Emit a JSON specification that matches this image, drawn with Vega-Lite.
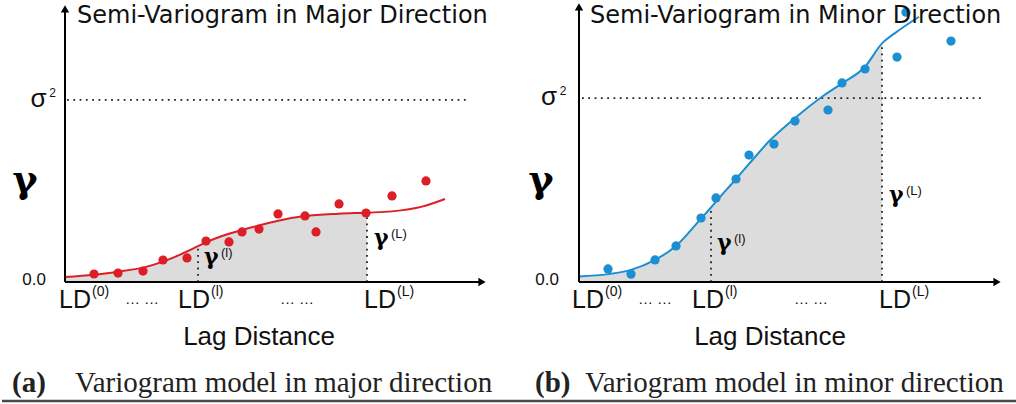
{
  "$schema": "https://vega.github.io/schema/vega-lite/v6.json",
  "padding": 0,
  "bounds": "flush",
  "spacing": 0,
  "config": {"view": {"stroke": null}, "concat": {"spacing": 0}},
  "datasets": {
    "lcurve": [
      {"x": 0, "y": 0.027}, {"x": 2.9, "y": 0.040}, {"x": 5.3, "y": 0.057}, {"x": 7.8, "y": 0.079},
      {"x": 9.8, "y": 0.112}, {"x": 11.0, "y": 0.138}, {"x": 12.2, "y": 0.168}, {"x": 13.3, "y": 0.197},
      {"x": 14.1, "y": 0.218}, {"x": 15.7, "y": 0.253}, {"x": 17.7, "y": 0.286}, {"x": 19.4, "y": 0.311}, {"x": 21.3, "y": 0.337},
      {"x": 24.0, "y": 0.362}, {"x": 27.4, "y": 0.375}, {"x": 30.2, "y": 0.381}, {"x": 32.7, "y": 0.388},
      {"x": 35.7, "y": 0.414}, {"x": 38.0, "y": 0.456}
    ],
    "lpts": [
      {"x": 2.9, "y": 0.044}, {"x": 5.3, "y": 0.049}, {"x": 7.8, "y": 0.060}, {"x": 9.8, "y": 0.121},
      {"x": 12.2, "y": 0.132}, {"x": 14.1, "y": 0.225}, {"x": 16.4, "y": 0.220}, {"x": 17.7, "y": 0.275},
      {"x": 19.4, "y": 0.291}, {"x": 21.3, "y": 0.374}, {"x": 24.0, "y": 0.363}, {"x": 25.1, "y": 0.275},
      {"x": 27.4, "y": 0.429}, {"x": 30.1, "y": 0.379}, {"x": 32.7, "y": 0.473}, {"x": 36.1, "y": 0.555}
    ],
    "llines": [
      {"kind": "axis", "x": 0, "y": 0, "x2": 0, "y2": 1.49},
      {"kind": "axis", "x": 0, "y": 0, "x2": 41.7, "y2": 0},
      {"kind": "dot", "x": 0.2, "y": 1, "x2": 40.4, "y2": 1},
      {"kind": "dot", "x": 13.3, "y": 0, "x2": 13.3, "y2": 0.195},
      {"kind": "dot", "x": 30.2, "y": 0, "x2": 30.2, "y2": 0.37},
      {"kind": "bottom", "x": -6.3, "y": -0.654, "x2": 44.5, "y2": -0.654}
    ],
    "larrows": [{"kind": "up", "x": 0, "y": 1.5}, {"kind": "right", "x": 41.7, "y": 0}],
    "ltext": [
      {"kind": "title", "x": 1.2, "y": 1.423, "text": "Semi-Variogram in Major Direction"},
      {"kind": "tick", "x": -1.9, "y": -0.016, "text": "0.0"},
      {"kind": "sigma", "x": -2.65, "y": 0.962, "text": "σ"},
      {"kind": "sup2", "x": -1.25, "y": 1.016, "text": "2"},
      {"kind": "gamma", "x": -4.0, "y": 0.495, "text": "γ"},
      {"kind": "ld", "x": -0.6, "y": -0.143, "text": "LD", "sup": "(0)"},
      {"kind": "ld", "x": 11.3, "y": -0.143, "text": "LD", "sup": "(l)"},
      {"kind": "ld", "x": 29.9, "y": -0.143, "text": "LD", "sup": "(L)"},
      {"kind": "dots", "x": 7.7, "y": -0.121, "text": "… …"},
      {"kind": "dots", "x": 23.2, "y": -0.121, "text": "… …"},
      {"kind": "glabel", "x": 13.9, "y": 0.099, "text": "γ", "sup": "(l)"},
      {"kind": "glabel", "x": 30.9, "y": 0.203, "text": "γ", "sup": "(L)"},
      {"kind": "xtitle", "x": 19.4, "y": -0.346, "text": "Lag Distance"},
      {"kind": "capbold", "x": -5.3, "y": -0.604, "text": "(a)"},
      {"kind": "cap", "x": 1.0, "y": -0.604, "text": "Variogram model in major direction"}
    ],
    "rcurve": [
      {"x": 0, "y": 0.030}, {"x": 2.9, "y": 0.043}, {"x": 5.2, "y": 0.066}, {"x": 7.6, "y": 0.120},
      {"x": 9.7, "y": 0.196}, {"x": 12.2, "y": 0.345}, {"x": 13.2, "y": 0.405}, {"x": 13.7, "y": 0.437},
      {"x": 15.7, "y": 0.560}, {"x": 17.0, "y": 0.642}, {"x": 19.0, "y": 0.765}, {"x": 21.6, "y": 0.891},
      {"x": 24.3, "y": 1.007}, {"x": 26.3, "y": 1.080}, {"x": 28.6, "y": 1.170}, {"x": 30.3, "y": 1.297},
      {"x": 31.6, "y": 1.353}, {"x": 34.0, "y": 1.442}
    ],
    "rpts": [
      {"x": 2.9, "y": 0.071}, {"x": 5.2, "y": 0.043}, {"x": 7.6, "y": 0.120}, {"x": 9.7, "y": 0.196},
      {"x": 12.2, "y": 0.348}, {"x": 13.7, "y": 0.457}, {"x": 15.7, "y": 0.560}, {"x": 17.0, "y": 0.690},
      {"x": 19.5, "y": 0.750}, {"x": 21.6, "y": 0.875}, {"x": 24.9, "y": 0.935}, {"x": 26.3, "y": 1.082},
      {"x": 28.6, "y": 1.158}, {"x": 31.8, "y": 1.223}, {"x": 32.7, "y": 1.467}, {"x": 37.2, "y": 1.310}
    ],
    "rlines": [
      {"kind": "axis", "x": 0, "y": 0, "x2": 0, "y2": 1.49},
      {"kind": "axis", "x": 0, "y": 0, "x2": 41.8, "y2": 0},
      {"kind": "dot", "x": 0.3, "y": 1, "x2": 40.5, "y2": 1},
      {"kind": "dot", "x": 13.2, "y": 0, "x2": 13.2, "y2": 0.39},
      {"kind": "dot", "x": 30.3, "y": 0, "x2": 30.3, "y2": 1.28},
      {"kind": "bottom", "x": -6.9, "y": -0.647, "x2": 43.9, "y2": -0.647}
    ],
    "rarrows": [{"kind": "up", "x": 0, "y": 1.495}, {"kind": "right", "x": 41.8, "y": 0}],
    "rtext": [
      {"kind": "title", "x": 1.1, "y": 1.408, "text": "Semi-Variogram in Minor Direction"},
      {"kind": "tick", "x": -2.0, "y": -0.016, "text": "0.0"},
      {"kind": "sigma", "x": -3.0, "y": 0.962, "text": "σ"},
      {"kind": "sup2", "x": -1.6, "y": 1.016, "text": "2"},
      {"kind": "gamma", "x": -3.8, "y": 0.489, "text": "γ"},
      {"kind": "ld", "x": -0.7, "y": -0.141, "text": "LD", "sup": "(0)"},
      {"kind": "ld", "x": 11.3, "y": -0.141, "text": "LD", "sup": "(l)"},
      {"kind": "ld", "x": 30.0, "y": -0.141, "text": "LD", "sup": "(L)"},
      {"kind": "dots", "x": 7.6, "y": -0.120, "text": "… …"},
      {"kind": "dots", "x": 23.2, "y": -0.120, "text": "… …"},
      {"kind": "glabel", "x": 13.8, "y": 0.174, "text": "γ", "sup": "(l)"},
      {"kind": "glabel", "x": 31.0, "y": 0.435, "text": "γ", "sup": "(L)"},
      {"kind": "xtitle", "x": 19.1, "y": -0.342, "text": "Lag Distance"},
      {"kind": "capbold", "x": -4.4, "y": -0.598, "text": "(b)"},
      {"kind": "cap", "x": 0.6, "y": -0.598, "text": "Variogram model in minor direction"}
    ]
  },
  "hconcat": [
    {
      "width": 508,
      "height": 404,
      "encoding": {
        "x": {"field": "x", "type": "quantitative", "scale": {"domain": [-6.3, 44.5], "nice": false, "zero": false}, "axis": null},
        "y": {"field": "y", "type": "quantitative", "scale": {"domain": [-0.670, 1.549], "nice": false, "zero": false}, "axis": null}
      },
      "layer": [
        {"data": {"name": "lcurve"}, "transform": [{"filter": "datum.x <= 30.2"}],
         "mark": {"type": "area", "interpolate": "monotone", "color": "#dcdcdc"},
         "encoding": {"y2": {"datum": 0}}},
        {"data": {"name": "llines"}, "transform": [{"filter": "datum.kind == 'dot'"}],
         "mark": {"type": "rule", "color": "#222222", "strokeWidth": 1.8, "strokeDash": [1.8, 4.5]},
         "encoding": {"x2": {"field": "x2"}, "y2": {"field": "y2"}}},
        {"data": {"name": "lcurve"}, "mark": {"type": "line", "interpolate": "monotone", "color": "#dc1f26", "strokeWidth": 2}, "encoding": {}},
        {"data": {"name": "lpts"}, "mark": {"type": "circle", "color": "#dc1f26", "size": 85, "opacity": 1}, "encoding": {}},
        {"data": {"name": "llines"}, "transform": [{"filter": "datum.kind == 'axis'"}],
         "mark": {"type": "rule", "color": "#000000", "strokeWidth": 2},
         "encoding": {"x2": {"field": "x2"}, "y2": {"field": "y2"}}},
        {"data": {"name": "llines"}, "transform": [{"filter": "datum.kind == 'bottom'"}],
         "mark": {"type": "rule", "color": "#4a4a4a", "strokeWidth": 2.5},
         "encoding": {"x2": {"field": "x2"}, "y2": {"field": "y2"}}},
        {"data": {"name": "larrows"}, "transform": [{"filter": "datum.kind == 'up'"}],
         "mark": {"type": "point", "shape": "triangle-up", "filled": true, "color": "#000000", "size": 70, "opacity": 1}, "encoding": {}},
        {"data": {"name": "larrows"}, "transform": [{"filter": "datum.kind == 'right'"}],
         "mark": {"type": "point", "shape": "triangle-right", "filled": true, "color": "#000000", "size": 70, "opacity": 1}, "encoding": {}},
        {"data": {"name": "ltext"}, "transform": [{"filter": "datum.kind == 'title'"}],
         "mark": {"type": "text", "font": "DejaVu Sans", "fontSize": 24, "align": "left", "baseline": "alphabetic", "color": "#111111"},
         "encoding": {"text": {"field": "text"}}},
        {"data": {"name": "ltext"}, "transform": [{"filter": "datum.kind == 'tick'"}],
         "mark": {"type": "text", "font": "Liberation Sans", "fontSize": 17, "align": "right", "baseline": "alphabetic", "color": "#111111"},
         "encoding": {"text": {"field": "text"}}},
        {"data": {"name": "ltext"}, "transform": [{"filter": "datum.kind == 'sigma'"}],
         "mark": {"type": "text", "font": "Liberation Sans", "fontSize": 26, "align": "center", "baseline": "alphabetic", "color": "#111111"},
         "encoding": {"text": {"field": "text"}}},
        {"data": {"name": "ltext"}, "transform": [{"filter": "datum.kind == 'sup2'"}],
         "mark": {"type": "text", "font": "Liberation Sans", "fontSize": 12, "align": "center", "baseline": "alphabetic", "color": "#111111"},
         "encoding": {"text": {"field": "text"}}},
        {"data": {"name": "ltext"}, "transform": [{"filter": "datum.kind == 'gamma'"}],
         "mark": {"type": "text", "font": "DejaVu Serif", "fontWeight": "bold", "fontSize": 38, "align": "center", "baseline": "alphabetic", "color": "#000000"},
         "encoding": {"text": {"field": "text"}}},
        {"data": {"name": "ltext"}, "transform": [{"filter": "datum.kind == 'ld'"}],
         "mark": {"type": "text", "font": "Liberation Sans", "fontSize": 25, "align": "left", "baseline": "alphabetic", "color": "#111111"},
         "encoding": {"text": {"field": "text"}}},
        {"data": {"name": "ltext"}, "transform": [{"filter": "datum.kind == 'ld'"}],
         "mark": {"type": "text", "font": "Liberation Sans", "fontSize": 14, "align": "left", "baseline": "alphabetic", "dx": 33, "dy": -12, "color": "#111111"},
         "encoding": {"text": {"field": "sup"}}},
        {"data": {"name": "ltext"}, "transform": [{"filter": "datum.kind == 'dots'"}],
         "mark": {"type": "text", "font": "Liberation Sans", "fontSize": 15, "align": "center", "baseline": "alphabetic", "color": "#111111"},
         "encoding": {"text": {"field": "text"}}},
        {"data": {"name": "ltext"}, "transform": [{"filter": "datum.kind == 'glabel'"}],
         "mark": {"type": "text", "font": "DejaVu Serif", "fontWeight": "bold", "fontSize": 22, "align": "left", "baseline": "alphabetic", "color": "#000000"},
         "encoding": {"text": {"field": "text"}}},
        {"data": {"name": "ltext"}, "transform": [{"filter": "datum.kind == 'glabel'"}],
         "mark": {"type": "text", "font": "Liberation Sans", "fontSize": 13, "align": "left", "baseline": "alphabetic", "dx": 17, "dy": -7, "color": "#111111"},
         "encoding": {"text": {"field": "sup"}}},
        {"data": {"name": "ltext"}, "transform": [{"filter": "datum.kind == 'xtitle'"}],
         "mark": {"type": "text", "font": "Liberation Sans", "fontSize": 26, "align": "center", "baseline": "alphabetic", "color": "#111111"},
         "encoding": {"text": {"field": "text"}}},
        {"data": {"name": "ltext"}, "transform": [{"filter": "datum.kind == 'capbold'"}],
         "mark": {"type": "text", "font": "Liberation Serif", "fontWeight": "bold", "fontSize": 29, "align": "left", "baseline": "alphabetic", "color": "#222222"},
         "encoding": {"text": {"field": "text"}}},
        {"data": {"name": "ltext"}, "transform": [{"filter": "datum.kind == 'cap'"}],
         "mark": {"type": "text", "font": "Liberation Serif", "fontSize": 29, "align": "left", "baseline": "alphabetic", "color": "#222222"},
         "encoding": {"text": {"field": "text"}}}
      ]
    },
    {
      "width": 508,
      "height": 404,
      "encoding": {
        "x": {"field": "x", "type": "quantitative", "scale": {"domain": [-6.9, 43.9], "nice": false, "zero": false}, "axis": null},
        "y": {"field": "y", "type": "quantitative", "scale": {"domain": [-0.663, 1.533], "nice": false, "zero": false}, "axis": null}
      },
      "layer": [
        {"data": {"name": "rcurve"}, "transform": [{"filter": "datum.x <= 30.3"}],
         "mark": {"type": "area", "interpolate": "monotone", "color": "#dcdcdc"},
         "encoding": {"y2": {"datum": 0}}},
        {"data": {"name": "rlines"}, "transform": [{"filter": "datum.kind == 'dot'"}],
         "mark": {"type": "rule", "color": "#222222", "strokeWidth": 1.8, "strokeDash": [1.8, 4.5]},
         "encoding": {"x2": {"field": "x2"}, "y2": {"field": "y2"}}},
        {"data": {"name": "rcurve"}, "mark": {"type": "line", "interpolate": "monotone", "color": "#1b8fd2", "strokeWidth": 2}, "encoding": {}},
        {"data": {"name": "rpts"}, "mark": {"type": "circle", "color": "#1b8fd2", "size": 85, "opacity": 1}, "encoding": {}},
        {"data": {"name": "rlines"}, "transform": [{"filter": "datum.kind == 'axis'"}],
         "mark": {"type": "rule", "color": "#000000", "strokeWidth": 2},
         "encoding": {"x2": {"field": "x2"}, "y2": {"field": "y2"}}},
        {"data": {"name": "rlines"}, "transform": [{"filter": "datum.kind == 'bottom'"}],
         "mark": {"type": "rule", "color": "#4a4a4a", "strokeWidth": 2.5},
         "encoding": {"x2": {"field": "x2"}, "y2": {"field": "y2"}}},
        {"data": {"name": "rarrows"}, "transform": [{"filter": "datum.kind == 'up'"}],
         "mark": {"type": "point", "shape": "triangle-up", "filled": true, "color": "#000000", "size": 70, "opacity": 1}, "encoding": {}},
        {"data": {"name": "rarrows"}, "transform": [{"filter": "datum.kind == 'right'"}],
         "mark": {"type": "point", "shape": "triangle-right", "filled": true, "color": "#000000", "size": 70, "opacity": 1}, "encoding": {}},
        {"data": {"name": "rtext"}, "transform": [{"filter": "datum.kind == 'title'"}],
         "mark": {"type": "text", "font": "DejaVu Sans", "fontSize": 24, "align": "left", "baseline": "alphabetic", "color": "#111111"},
         "encoding": {"text": {"field": "text"}}},
        {"data": {"name": "rtext"}, "transform": [{"filter": "datum.kind == 'tick'"}],
         "mark": {"type": "text", "font": "Liberation Sans", "fontSize": 17, "align": "right", "baseline": "alphabetic", "color": "#111111"},
         "encoding": {"text": {"field": "text"}}},
        {"data": {"name": "rtext"}, "transform": [{"filter": "datum.kind == 'sigma'"}],
         "mark": {"type": "text", "font": "Liberation Sans", "fontSize": 26, "align": "center", "baseline": "alphabetic", "color": "#111111"},
         "encoding": {"text": {"field": "text"}}},
        {"data": {"name": "rtext"}, "transform": [{"filter": "datum.kind == 'sup2'"}],
         "mark": {"type": "text", "font": "Liberation Sans", "fontSize": 12, "align": "center", "baseline": "alphabetic", "color": "#111111"},
         "encoding": {"text": {"field": "text"}}},
        {"data": {"name": "rtext"}, "transform": [{"filter": "datum.kind == 'gamma'"}],
         "mark": {"type": "text", "font": "DejaVu Serif", "fontWeight": "bold", "fontSize": 38, "align": "center", "baseline": "alphabetic", "color": "#000000"},
         "encoding": {"text": {"field": "text"}}},
        {"data": {"name": "rtext"}, "transform": [{"filter": "datum.kind == 'ld'"}],
         "mark": {"type": "text", "font": "Liberation Sans", "fontSize": 25, "align": "left", "baseline": "alphabetic", "color": "#111111"},
         "encoding": {"text": {"field": "text"}}},
        {"data": {"name": "rtext"}, "transform": [{"filter": "datum.kind == 'ld'"}],
         "mark": {"type": "text", "font": "Liberation Sans", "fontSize": 14, "align": "left", "baseline": "alphabetic", "dx": 33, "dy": -12, "color": "#111111"},
         "encoding": {"text": {"field": "sup"}}},
        {"data": {"name": "rtext"}, "transform": [{"filter": "datum.kind == 'dots'"}],
         "mark": {"type": "text", "font": "Liberation Sans", "fontSize": 15, "align": "center", "baseline": "alphabetic", "color": "#111111"},
         "encoding": {"text": {"field": "text"}}},
        {"data": {"name": "rtext"}, "transform": [{"filter": "datum.kind == 'glabel'"}],
         "mark": {"type": "text", "font": "DejaVu Serif", "fontWeight": "bold", "fontSize": 22, "align": "left", "baseline": "alphabetic", "color": "#000000"},
         "encoding": {"text": {"field": "text"}}},
        {"data": {"name": "rtext"}, "transform": [{"filter": "datum.kind == 'glabel'"}],
         "mark": {"type": "text", "font": "Liberation Sans", "fontSize": 13, "align": "left", "baseline": "alphabetic", "dx": 17, "dy": -7, "color": "#111111"},
         "encoding": {"text": {"field": "sup"}}},
        {"data": {"name": "rtext"}, "transform": [{"filter": "datum.kind == 'xtitle'"}],
         "mark": {"type": "text", "font": "Liberation Sans", "fontSize": 26, "align": "center", "baseline": "alphabetic", "color": "#111111"},
         "encoding": {"text": {"field": "text"}}},
        {"data": {"name": "rtext"}, "transform": [{"filter": "datum.kind == 'capbold'"}],
         "mark": {"type": "text", "font": "Liberation Serif", "fontWeight": "bold", "fontSize": 29, "align": "left", "baseline": "alphabetic", "color": "#222222"},
         "encoding": {"text": {"field": "text"}}},
        {"data": {"name": "rtext"}, "transform": [{"filter": "datum.kind == 'cap'"}],
         "mark": {"type": "text", "font": "Liberation Serif", "fontSize": 29, "align": "left", "baseline": "alphabetic", "color": "#222222"},
         "encoding": {"text": {"field": "text"}}}
      ]
    }
  ]
}
